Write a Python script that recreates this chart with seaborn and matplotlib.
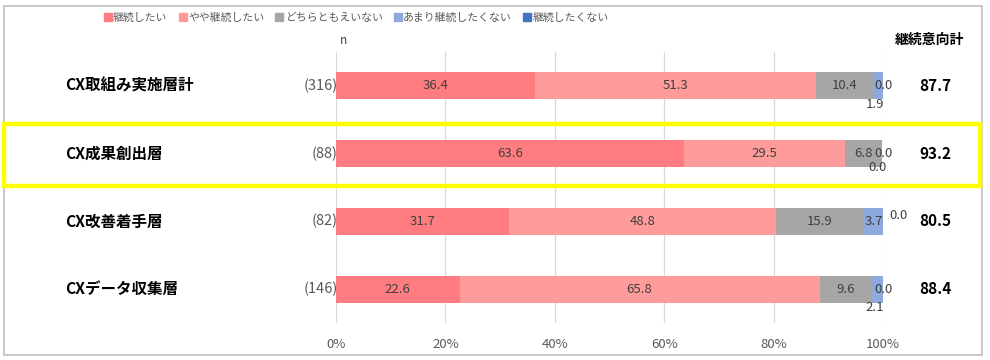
import numpy as np
import pandas as pd
import matplotlib
matplotlib.use("Agg")
import matplotlib.pyplot as plt
from matplotlib.lines import Line2D
from matplotlib.patches import Rectangle
import seaborn as sns

# data
groups = ["CX取組み実施層計", "CX成果創出層", "CX改善着手層", "CXデータ収集層"]
n_counts = [316, 88, 82, 146]
series = ["継続したい", "やや継続したい", "どちらともえいない", "あまり継続したくない", "継続したくない"]
v_keep = [36.4, 63.6, 31.7, 22.6]
v_rather = [51.3, 29.5, 48.8, 65.8]
v_neutral = [10.4, 6.8, 15.9, 9.6]
v_rather_not = [1.9, 0.0, 3.7, 2.1]
v_not = [0.0, 0.0, 0.0, 0.0]
totals = [87.7, 93.2, 80.5, 88.4]

colors = ["#FF7C80", "#FF9B9B", "#A6A6A6", "#8EA9DB", "#4472C4"]

sns.set_style("white")
plt.rcParams["font.family"] = ["Noto Sans CJK JP", "DejaVu Sans"]

values = np.array([v_keep, v_rather, v_neutral, v_rather_not, v_not])
cum = np.cumsum(values, axis=0)

fig = plt.figure(figsize=(9.9, 3.6), dpi=100)
ax = fig.add_axes([336 / 990, 1 - 323 / 360, 547 / 990, 271 / 360])

# stacked bars: draw cumulative totals from the widest down
for j in range(len(series) - 1, -1, -1):
    df = pd.DataFrame({"group": groups, "v": cum[j]})
    sns.barplot(data=df, x="v", y="group", orient="h", color=colors[j],
                saturation=1, width=0.40, errorbar=None, ax=ax, zorder=2,
                linewidth=0)

ax.set_xlim(0, 100)
ax.set_ylim(3.5, -0.5)
ax.set_xticks([0, 20, 40, 60, 80, 100])
ax.set_xticklabels(["0%", "20%", "40%", "60%", "80%", "100%"], color="#595959", fontsize=9.5)
ax.tick_params(axis="x", length=0, pad=11)
ax.set_yticks([])
ax.set_xlabel("")
ax.set_ylabel("")
ax.grid(axis="x", color="#D9D9D9", linewidth=0.9, zorder=0)
ax.set_axisbelow(True)
for s in ax.spines.values():
    s.set_visible(False)

# segment labels; small segments get nudged outside like Excel does
nudges = {
    (0, 3): (98.5, 0.27), (0, 4): (100.0, 0.0),
    (1, 3): (100.0, 0.0), (1, 4): (99.0, 0.21),
    (2, 4): (102.8, -0.08),
    (3, 3): (98.5, 0.27), (3, 4): (100.0, 0.0),
}
for i in range(len(groups)):
    for j in range(len(series)):
        val = values[j, i]
        if (i, j) in nudges:
            x, dy = nudges[(i, j)]
            y = i + dy
        else:
            x = cum[j, i] - val / 2
            y = i
        ax.text(x, y, f"{val:.1f}", ha="center", va="center", fontsize=9.5,
                color="#404040", zorder=5, clip_on=False)

    # row label, n and total
    ax.text(-49.5, i, groups[i], ha="left", va="center", fontsize=11.2,
            fontweight="bold", color="#000000", clip_on=False)
    ax.text(0.35, i, f"({n_counts[i]})", ha="right", va="center", fontsize=10.5,
            color="#595959", zorder=1, clip_on=False)
    ax.text(109.5, i, f"{totals[i]:.1f}", ha="center", va="center", fontsize=11,
            fontweight="bold", color="#000000", clip_on=False)

fig.text(340 / 990, 1 - 40 / 360, "n", ha="left", va="center", fontsize=8.5, color="#404040")
fig.text(929 / 990, 1 - 40 / 360, "継続意向計", ha="center", va="center", fontsize=10,
         fontweight="bold", color="#000000")

# legend
handles = [Line2D([], [], marker="s", linestyle="", markersize=5.5, color=c) for c in colors]
fig.legend(handles, series, loc="center", bbox_to_anchor=(356 / 990, 1 - 18 / 360), ncol=5,
           frameon=False, fontsize=7.8, labelcolor="#595959", handletextpad=0.1,
           columnspacing=1.0, handlelength=0.8)

# frame and highlight box
fig.patches.append(Rectangle((4 / 990, 1 - 355 / 360), 978 / 990, 349 / 360,
                             transform=fig.transFigure, fill=False,
                             edgecolor="#BFBFBF", linewidth=1.2))
fig.patches.append(Rectangle((4 / 990, 1 - 186 / 360), 976 / 990, 62 / 360,
                             transform=fig.transFigure, fill=False,
                             edgecolor="#FFFF00", linewidth=3.2, zorder=10))

fig.savefig("out.png", dpi=100)
